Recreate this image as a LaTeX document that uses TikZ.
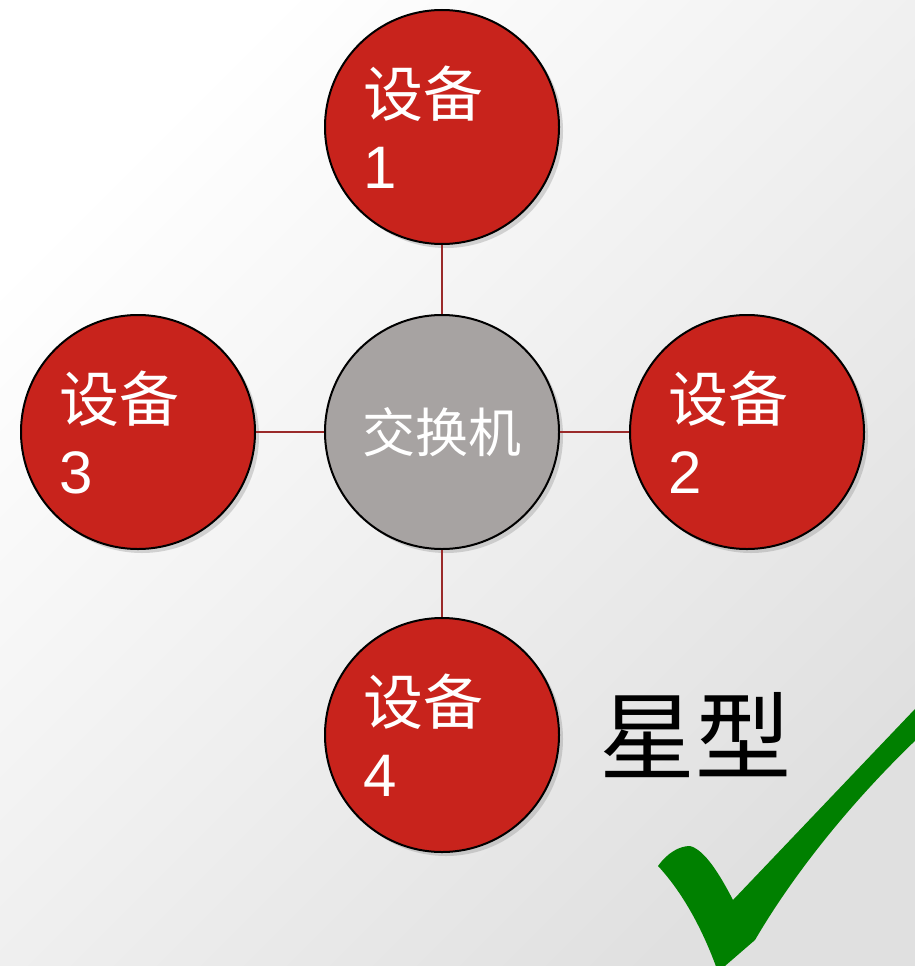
\documentclass[tikz,border=0pt]{standalone}
\usepackage{fontspec}
\setmainfont{Liberation Sans}
\newfontfamily\cjk{Noto Sans CJK SC}
\usetikzlibrary{shadows}
\definecolor{devred}{HTML}{C8231C}
\definecolor{hubgray}{HTML}{A7A3A2}
\definecolor{linkred}{HTML}{9A2A2A}
\definecolor{checkgreen}{HTML}{008000}
\tikzset{
	ball/.style={circle,draw=black,line width=2pt,minimum size=234pt,inner sep=0pt,
		text=white,drop shadow={shadow xshift=4pt,shadow yshift=-4pt,opacity=0.3}},
	dev/.style={ball,fill=devred,text width=158pt,align=left,font=\fontsize{60}{72}\selectfont},
	hub/.style={ball,fill=hubgray,font=\fontsize{53}{60}\selectfont\cjk},
	link/.style={draw=linkred,line width=2pt}
}
\begin{document}
\begin{tikzpicture}[x=1pt,y=-1pt]
	\shade[top color=white,bottom color=black!12,shading angle=45] (0,0) rectangle (915,966);
	\useasboundingbox (0,0) rectangle (915,966);
	\node[hub] (switch) at (442,432) {交换机};
	\node[dev] (dev1) at (442,127) {{\cjk 设备}\\1};
	\node[dev] (dev2) at (747,432) {{\cjk 设备}\\2};
	\node[dev] (dev3) at (138,432) {{\cjk 设备}\\3};
	\node[dev] (dev4) at (442,735) {{\cjk 设备}\\4};
	\draw[link] (switch) -- (dev1);
	\draw[link] (switch) -- (dev2);
	\draw[link] (switch) -- (dev3);
	\draw[link] (switch) -- (dev4);
	\node[font=\fontsize{96}{100}\selectfont\cjk] (star) at (695,735) {星型};
	% check mark
	\fill[checkgreen] (658,866) .. controls (668,852) and (680,846) .. (690,846)
		.. controls (705,850) and (720,875) .. (733,900) -- (935,688) -- (935,722)
		.. controls (850,800) and (790,880) .. (755,940) -- (718,972)
		.. controls (705,935) and (685,895) .. (658,866) -- cycle;
\end{tikzpicture}
\end{document}
